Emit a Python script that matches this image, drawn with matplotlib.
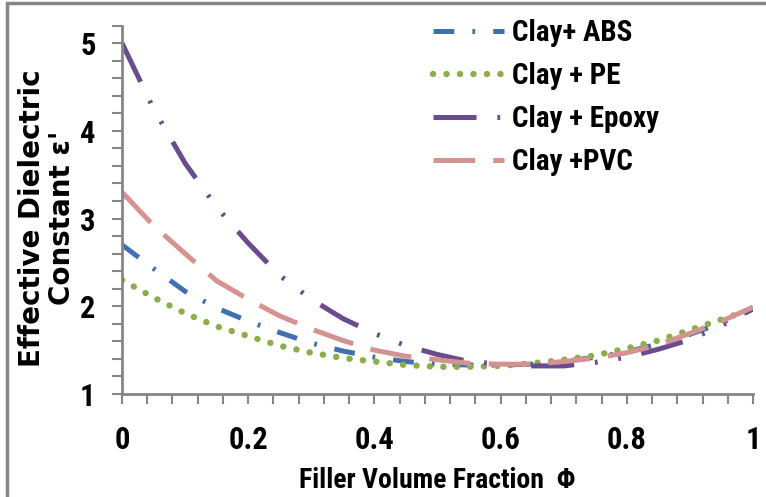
import matplotlib
matplotlib.use("Agg")
import matplotlib.pyplot as plt
from matplotlib.patches import Rectangle
from matplotlib.ticker import MultipleLocator, FormatStrFormatter

# Filler volume fraction (x) and effective dielectric constant for each blend
phi = [0.0, 0.05, 0.1, 0.15, 0.2, 0.25, 0.3, 0.35, 0.4, 0.45, 0.5,
       0.55, 0.6, 0.65, 0.7, 0.75, 0.8, 0.85, 0.9, 0.95, 1.0]
eps_abs = [2.70, 2.43, 2.17, 1.98, 1.83, 1.70, 1.58, 1.49, 1.42, 1.37, 1.34,
           1.33, 1.33, 1.34, 1.37, 1.42, 1.48, 1.57, 1.68, 1.81, 1.97]
eps_pe = [2.30, 2.10, 1.92, 1.77, 1.66, 1.55, 1.47, 1.41, 1.37, 1.33, 1.31,
          1.31, 1.32, 1.35, 1.39, 1.44, 1.52, 1.61, 1.73, 1.85, 1.97]
eps_epoxy = [5.00, 4.25, 3.63, 3.13, 2.72, 2.35, 2.08, 1.86, 1.69, 1.55, 1.45,
             1.37, 1.34, 1.32, 1.32, 1.36, 1.42, 1.51, 1.62, 1.78, 1.97]
eps_pvc = [3.30, 2.92, 2.60, 2.29, 2.08, 1.89, 1.74, 1.61, 1.50, 1.43, 1.39,
           1.35, 1.34, 1.34, 1.37, 1.41, 1.47, 1.56, 1.69, 1.83, 1.99]

labels = ["Clay+ ABS", "Clay + PE", "Clay + Epoxy", "Clay +PVC"]

narrow = ['Liberation Sans Narrow', 'Roboto Condensed', 'Liberation Sans', 'DejaVu Sans']
plt.rcParams['lines.scale_dashes'] = False
plt.rcParams['font.family'] = narrow
plt.rcParams['font.weight'] = 'bold'
grey = '#868686'

fig = plt.figure(figsize=(7.66, 4.97), dpi=100)
ax = fig.add_axes([122 / 766, 1 - 394 / 497, (753 - 122) / 766, (394 - 25.5) / 497])

lw = 3.6
ax.plot(phi, eps_abs, color='#4170AE', lw=lw, dashes=(15, 13, 2, 13),
        dash_capstyle='butt', label=labels[0])
ax.plot(phi, eps_pe, color='#8AAF48', lw=4.6, dashes=(0.1, 9.6),
        dash_capstyle='round', label=labels[1])
ax.plot(phi, eps_epoxy, color='#6A4C8E', lw=lw, dashes=(31, 15, 2, 15, 2, 15),
        dash_capstyle='butt', label=labels[2])
ax.plot(phi, eps_pvc, color='#D49290', lw=lw, dashes=(30, 13),
        dash_capstyle='butt', label=labels[3])

ax.set_xlim(0, 1)
ax.set_ylim(1, 5.2)
ax.xaxis.set_major_locator(MultipleLocator(0.2))
ax.xaxis.set_minor_locator(MultipleLocator(0.04))
ax.yaxis.set_major_locator(MultipleLocator(1))
ax.yaxis.set_minor_locator(MultipleLocator(0.2))
ax.xaxis.set_major_formatter(FormatStrFormatter('%g'))
ax.yaxis.set_major_formatter(FormatStrFormatter('%g'))

for s in ['top', 'right']:
    ax.spines[s].set_visible(False)
for s in ['left', 'bottom']:
    ax.spines[s].set_color(grey)
    ax.spines[s].set_linewidth(2)

ax.tick_params(which='both', direction='out', length=7, width=1.5, color=grey,
               labelsize=22)
ax.tick_params(axis='x', which='major', pad=15)
ax.tick_params(axis='y', which='major', pad=12)

fig.text(437 / 766, 1 - 480 / 497, 'Filler Volume Fraction  Φ', ha='center',
         va='center', fontsize=20)
fig.text(47 / 766, 1 - 218 / 497, "Effective Dielectric\nConstant ε'",
         rotation=90, ha='center', va='center', fontsize=20,
         family='DejaVu Sans', linespacing=1.12, multialignment='center')

leg = ax.legend(loc='upper left', bbox_to_anchor=(433 / 766, 1 - 19 / 497),
                bbox_transform=fig.transFigure, frameon=False,
                borderpad=0, borderaxespad=0, handlelength=2.45,
                handletextpad=0.25, labelspacing=0.52,
                prop={'size': 21})

# outer chart border
fig.add_artist(Rectangle((7 / 766, -0.1), 1.2, 1 - 3 / 497 + 0.1,
                         transform=fig.transFigure, fill=False,
                         edgecolor=grey, lw=2.5))

fig.savefig('out.png', dpi=100)
